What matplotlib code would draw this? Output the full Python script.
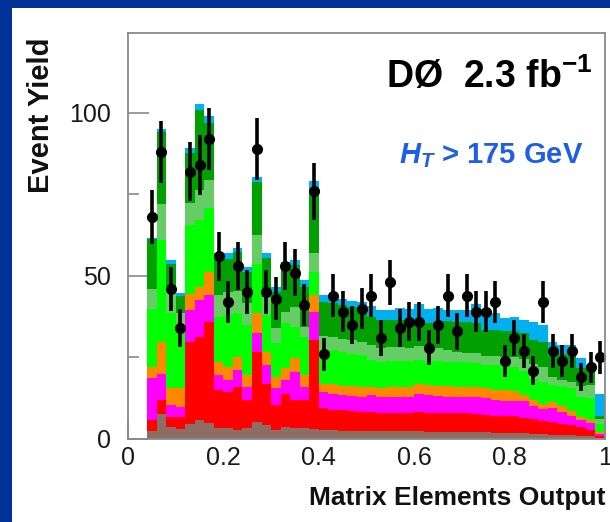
import numpy as np
import matplotlib
matplotlib.use("Agg")
import matplotlib.pyplot as plt
from matplotlib.patches import Rectangle
from matplotlib.ticker import MultipleLocator, FixedLocator

plt.rcParams['font.family'] = ['Liberation Sans', 'DejaVu Sans']
plt.rcParams['mathtext.fontset'] = 'custom'
plt.rcParams['mathtext.rm'] = 'Liberation Sans:bold'
plt.rcParams['mathtext.bf'] = 'Liberation Sans:bold'
plt.rcParams['mathtext.it'] = 'Liberation Sans:bold:italic'

# Histogram binning: 0.02-wide bins from 0.04 to 1.0
bin_edges = np.round(np.arange(0.04, 1.0001, 0.02), 2)

data_counts = [68, 88, 46, 34, 82, 84, 92, 56,
               42, 53, 45, 89, 45, 43, 53, 51,
               41, 76, 26, 44, 39, 35, 40, 44,
               31, 48, 34, 36, 36, 28, 35, 44,
               33, 44, 39, 39, 42, 24, 31, 27,
               21, 42, 27, 24, 27, 19, 22, 25]

# Stacked predictions, bottom to top
multijets = [2.5, 7.8, 3.7, 3.2, 4.5, 5.8, 4.8, 3.3,
             3.3, 2.8, 3.3, 5.3, 4.3, 2.8, 3.8, 3.3,
             3.3, 3.0, 2.8, 2.8, 2.6, 2.5, 2.5, 2.4,
             2.4, 2.4, 2.3, 2.3, 2.3, 2.2, 2.2, 2.2,
             2.1, 2.0, 2.0, 2.0, 1.9, 1.9, 1.8, 1.7,
             1.5, 1.4, 1.2, 1.2, 1.1, 1.0, 0.9, 0.3]
ttbar_lj = [3.3, 4.1, 3.1, 3.6, 25.3, 25.6, 31.2, 11.7,
            11.2, 13.2, 8.6, 21.5, 12.7, 7.6, 10.1, 8.6,
            8.6, 27.3, 6.6, 6.0, 6.2, 6.0, 5.8, 6.0,
            5.7, 5.7, 5.8, 5.7, 6.0, 5.9, 5.9, 5.8,
            5.9, 6.0, 5.8, 5.5, 5.1, 5.0, 5.1, 4.8,
            4.5, 4.2, 4.1, 3.4, 3.1, 2.7, 1.8, 0.5]
ttbar_ll = [12.8, 8.1, 3.6, 3.1, 9.7, 11.2, 8.1, 4.6,
            3.5, 5.1, 4.1, 5.6, 5.7, 5.1, 4.1, 8.7,
            4.1, 8.7, 5.0, 5.1, 4.6, 4.7, 4.7, 5.1,
            4.8, 4.8, 4.8, 4.8, 5.6, 5.3, 5.1, 5.0,
            5.0, 4.9, 5.1, 5.0, 5.0, 4.9, 4.9, 5.0,
            4.2, 3.6, 4.1, 3.6, 3.0, 2.1, 2.1, 0.7]
zjets_dib = [3.6, 9.8, 5.1, 5.6, 5.1, 4.1, 7.2, 4.1,
             4.2, 4.1, 3.6, 6.1, 4.1, 3.6, 3.7, 4.2,
             3.6, 5.1, 2.5, 3.0, 3.0, 3.0, 3.0, 2.5,
             2.6, 3.1, 3.1, 3.2, 3.1, 3.1, 3.1, 3.1,
             3.0, 3.1, 3.1, 3.0, 3.0, 3.2, 3.0, 2.0,
             1.8, 1.6, 2.0, 1.8, 1.4, 1.0, 1.0, 0.7]
wjj = [17.8, 31.2, 23.0, 19.2, 21.0, 20.4, 19.4, 13.8,
       15.8, 13.3, 15.4, 15.3, 11.2, 10.2, 13.8, 9.4,
       11.8, 7.2, 10.4, 10.4, 10.4, 10.0, 9.7, 8.2,
       8.2, 8.0, 8.0, 7.8, 7.2, 7.5, 7.5, 7.6,
       7.7, 7.5, 7.3, 7.2, 7.7, 7.5, 7.4, 7.5,
       6.5, 6.7, 5.1, 6.1, 6.9, 6.2, 6.7, 2.3]
wcc = [6.0, 11.2, 8.2, 3.8, 6.7, 9.2, 8.7, 6.6,
       7.0, 7.0, 6.6, 8.7, 5.6, 4.6, 3.5, 6.3,
       3.0, 5.6, 4.4, 4.1, 4.0, 4.1, 4.1, 4.6,
       4.1, 4.2, 4.2, 4.2, 4.3, 4.0, 4.0, 3.6,
       3.1, 3.0, 3.2, 2.6, 2.6, 2.7, 3.0, 3.5,
       4.5, 4.7, 2.5, 1.9, 2.0, 3.1, 4.0, 1.5]
wbb = [15.3, 22.0, 7.1, 5.5, 15.3, 24.7, 17.4, 11.3,
       10.3, 11.7, 9.7, 16.4, 11.8, 11.3, 13.8, 12.9,
       12.3, 18.9, 10.4, 10.2, 10.2, 10.2, 10.4, 8.7,
       8.7, 8.3, 8.3, 8.3, 8.0, 7.6, 8.0, 8.9,
       9.2, 9.5, 9.0, 8.1, 8.1, 7.8, 7.8, 8.0,
       7.5, 7.6, 6.6, 8.1, 8.0, 5.6, 4.7, 0.9]
tb_tqb = [0.3, 0.8, 1.0, 0.7, 1.5, 1.7, 2.2, 1.5,
          1.7, 1.5, 1.5, 1.3, 1.5, 1.5, 1.5, 1.5,
          2.0, 3.4, 2.0, 2.0, 1.9, 1.9, 1.9, 3.3,
          3.0, 3.2, 3.8, 3.7, 5.0, 4.4, 4.5, 3.3,
          3.5, 3.5, 6.0, 6.4, 5.1, 4.0, 4.5, 4.0,
          5.3, 5.2, 4.2, 2.7, 3.3, 3.0, 1.5, 6.9]

components = [multijets, ttbar_lj, ttbar_ll, zjets_dib, wjj, wcc, wbb, tb_tqb]
colors = ['#8c6e64', '#ff0000', '#ff00ff', '#ff8800',
          '#00ff00', '#66cc66', '#00a000', '#00b0f0']

fig = plt.figure(figsize=(6.10, 5.22), dpi=100, facecolor='#00339a')
fig.add_artist(Rectangle((12 / 610, 0), 1, 1 - 8 / 522, transform=fig.transFigure,
                         facecolor='white', edgecolor='none', zorder=0))

ax = fig.add_axes([128 / 610, 1 - 439 / 522, 477 / 610, 406 / 522])
ax.set_facecolor('white')

baseline = np.zeros(len(data_counts))
for comp, col in zip(components, colors):
    top = baseline + np.asarray(comp)
    ax.stairs(top, bin_edges, baseline=baseline, fill=True, color=col,
              linewidth=0, zorder=2)
    baseline = top

centers = 0.5 * (bin_edges[:-1] + bin_edges[1:])
counts = np.asarray(data_counts, dtype=float)
ax.errorbar(centers, counts, yerr=np.sqrt(counts), fmt='o', color='black',
            ms=7, elinewidth=2.6, capsize=0, zorder=5)

ax.set_xlim(0, 1)
ax.set_ylim(0, 124.5)
ax.xaxis.set_major_locator(FixedLocator([0, 0.2, 0.4, 0.6, 0.8, 1.0]))
ax.xaxis.set_minor_locator(MultipleLocator(0.05))
ax.set_xticklabels(['0', '0.2', '0.4', '0.6', '0.8', '1'])
ax.yaxis.set_major_locator(FixedLocator([0, 50, 100]))
ax.yaxis.set_minor_locator(FixedLocator([25, 75]))
ax.set_yticklabels(['0', '50', '100'])

for side in ax.spines.values():
    side.set_color('#8a8a8a')
    side.set_linewidth(1.3)
    side.set_zorder(6)

ax.tick_params(axis='both', which='both', direction='in', color='#8a8a8a',
               width=1.2, labelsize=18, labelcolor='#1a1a1a')
ax.tick_params(axis='y', which='major', length=15, pad=12)
ax.tick_params(axis='y', which='minor', length=8)
ax.tick_params(axis='x', which='major', length=12, pad=5)
ax.tick_params(axis='x', which='minor', length=6)

ax.set_xlabel('Matrix Elements Output', fontsize=19, fontweight='bold', color='#111111')
ax.xaxis.set_label_coords(1.0, -0.115)
ax.xaxis.label.set_horizontalalignment('right')
ax.xaxis.label.set_verticalalignment('top')
ax.set_ylabel('Event Yield', fontsize=21, fontweight='bold', color='#111111')
ax.yaxis.set_label_coords(-0.152, 0.99)
ax.yaxis.label.set_horizontalalignment('right')
ax.yaxis.label.set_verticalalignment('bottom')

ax.text(0.973, 0.865, 'DØ  2.3 fb$^{\\mathbf{-1}}$', transform=ax.transAxes,
        ha='right', va='baseline', fontsize=27, fontweight='bold', color='black',
        zorder=7)
ax.text(0.954, 0.68, '$H_T$ > 175 GeV', transform=ax.transAxes,
        ha='right', va='baseline', fontsize=21, fontweight='bold', color='#1f5fe8',
        zorder=7)

fig.savefig('out.png', dpi=100, facecolor=fig.get_facecolor())
